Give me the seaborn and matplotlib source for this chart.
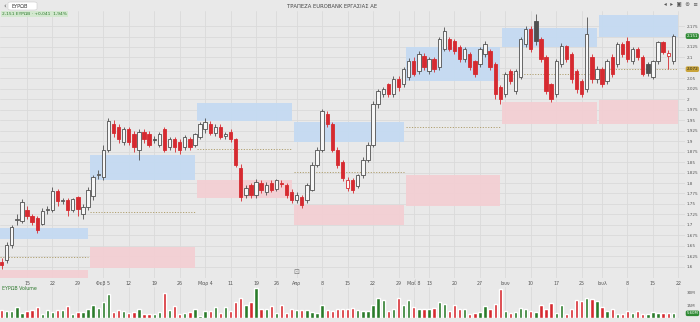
import numpy as np
import pandas as pd
import matplotlib
matplotlib.use("Agg")
import matplotlib.pyplot as plt
import seaborn as sns
from matplotlib.patches import Rectangle, FancyBboxPatch
from matplotlib.transforms import blended_transform_factory

sns.set_theme(style="white")
plt.rcParams['font.family'] = ['DejaVu Sans']

# ---------------- data ----------------
trade_start, trade_end = "2024-01-08", "2024-07-19"
holidays = ["2024-03-18", "2024-03-25", "2024-05-01", "2024-05-03",
            "2024-05-06", "2024-05-07", "2024-06-24"]

opens = [1.612, 1.617, 1.652, 1.712, 1.710, 1.735, 1.720, 1.717, 1.703, 1.735,
         1.736, 1.782, 1.756, 1.760, 1.736, 1.767, 1.725, 1.742, 1.768, 1.818,
         1.815, 1.880, 1.940, 1.933, 1.899, 1.928, 1.916, 1.880, 1.923, 1.916,
         1.905, 1.892, 1.928, 1.885, 1.904, 1.899, 1.885, 1.904, 1.892, 1.909,
         1.928, 1.940, 1.920, 1.935, 1.912, 1.923, 1.904, 1.837, 1.772, 1.796,
         1.772, 1.801, 1.779, 1.801, 1.786, 1.801, 1.796, 1.779, 1.760, 1.767,
         1.760, 1.784, 1.844, 1.880, 1.964, 1.940, 1.880, 1.849, 1.789, 1.808,
         1.794, 1.818, 1.856, 1.892, 1.988, 2.012, 2.036, 2.012, 2.048, 2.036,
         2.053, 2.091, 2.067, 2.103, 2.067, 2.096, 2.077, 2.120, 2.144, 2.139,
         2.125, 2.096, 2.108, 2.091, 2.084, 2.108, 2.115, 2.084, 2.029, 2.012,
         2.067, 2.019, 2.053, 2.132, 2.168, 2.187, 2.144, 2.101, 2.036, 2.012,
         2.084, 2.127, 2.108, 2.067, 2.043, 2.024, 2.101, 2.048, 2.072, 2.043,
         2.101, 2.084, 2.132, 2.139, 2.091, 2.120, 2.101, 2.085, 2.053, 2.091,
         2.137, 2.103, 2.091]
highs = [1.620, 1.660, 1.700, 1.725, 1.762, 1.745, 1.725, 1.720, 1.740, 1.745,
         1.790, 1.785, 1.765, 1.765, 1.765, 1.770, 1.750, 1.790, 1.820, 1.830,
         1.892, 1.955, 1.950, 1.940, 1.935, 1.935, 1.925, 1.930, 1.930, 1.925,
         1.912, 1.922, 1.935, 1.910, 1.910, 1.905, 1.915, 1.910, 1.920, 1.945,
         1.955, 1.947, 1.940, 1.942, 1.922, 1.930, 1.908, 1.845, 1.795, 1.800,
         1.810, 1.806, 1.803, 1.808, 1.810, 1.807, 1.800, 1.785, 1.778, 1.772,
         1.800, 1.850, 1.885, 1.978, 1.972, 1.945, 1.885, 1.855, 1.815, 1.812,
         1.822, 1.862, 1.898, 1.995, 2.025, 2.030, 2.040, 2.055, 2.055, 2.078,
         2.098, 2.100, 2.115, 2.110, 2.100, 2.100, 2.150, 2.172, 2.150, 2.145,
         2.130, 2.125, 2.112, 2.095, 2.125, 2.140, 2.120, 2.090, 2.035, 2.065,
         2.072, 2.072, 2.150, 2.175, 2.175, 2.204, 2.150, 2.105, 2.040, 2.096,
         2.135, 2.130, 2.112, 2.072, 2.048, 2.197, 2.108, 2.080, 2.078, 2.096,
         2.108, 2.137, 2.137, 2.150, 2.125, 2.125, 2.105, 2.090, 2.095, 2.140,
         2.140, 2.118, 2.157]
lows = [1.595, 1.610, 1.645, 1.700, 1.705, 1.715, 1.700, 1.680, 1.700, 1.725,
        1.730, 1.745, 1.750, 1.720, 1.730, 1.720, 1.715, 1.735, 1.760, 1.810,
        1.808, 1.875, 1.910, 1.895, 1.890, 1.890, 1.875, 1.855, 1.895, 1.885,
        1.895, 1.885, 1.875, 1.878, 1.875, 1.870, 1.878, 1.880, 1.885, 1.905,
        1.920, 1.915, 1.912, 1.905, 1.905, 1.898, 1.838, 1.757, 1.765, 1.765,
        1.765, 1.776, 1.772, 1.778, 1.780, 1.790, 1.765, 1.752, 1.752, 1.740,
        1.752, 1.780, 1.838, 1.875, 1.935, 1.875, 1.835, 1.805, 1.780, 1.776,
        1.788, 1.812, 1.850, 1.885, 1.980, 2.005, 2.005, 2.005, 2.020, 2.030,
        2.045, 2.055, 2.060, 2.070, 2.060, 2.065, 2.070, 2.115, 2.115, 2.108,
        2.090, 2.090, 2.070, 2.053, 2.078, 2.100, 2.070, 2.000, 1.988, 2.005,
        2.036, 2.012, 2.048, 2.125, 2.112, 2.130, 2.090, 2.012, 1.993, 2.005,
        2.078, 2.090, 2.040, 2.015, 2.005, 2.017, 2.040, 2.040, 2.030, 2.036,
        2.053, 2.078, 2.100, 2.090, 2.085, 2.095, 2.055, 2.055, 2.048, 2.085,
        2.108, 2.072, 2.085]
closes = [1.605, 1.652, 1.695, 1.715, 1.755, 1.722, 1.708, 1.688, 1.734, 1.738,
          1.782, 1.756, 1.757, 1.735, 1.762, 1.737, 1.742, 1.784, 1.815, 1.820,
          1.880, 1.947, 1.920, 1.904, 1.928, 1.897, 1.887, 1.921, 1.904, 1.892,
          1.903, 1.916, 1.880, 1.904, 1.885, 1.880, 1.909, 1.887, 1.916, 1.940,
          1.945, 1.920, 1.935, 1.909, 1.916, 1.904, 1.844, 1.767, 1.789, 1.772,
          1.803, 1.784, 1.796, 1.784, 1.806, 1.797, 1.772, 1.760, 1.772, 1.748,
          1.796, 1.844, 1.880, 1.971, 1.940, 1.880, 1.844, 1.813, 1.808, 1.784,
          1.818, 1.856, 1.892, 1.988, 2.019, 2.024, 2.012, 2.048, 2.029, 2.072,
          2.091, 2.060, 2.108, 2.077, 2.096, 2.072, 2.144, 2.163, 2.120, 2.115,
          2.096, 2.120, 2.077, 2.060, 2.120, 2.132, 2.077, 2.012, 2.000, 2.060,
          2.043, 2.067, 2.144, 2.168, 2.120, 2.139, 2.096, 2.019, 2.000, 2.091,
          2.127, 2.096, 2.048, 2.024, 2.012, 2.156, 2.048, 2.072, 2.036, 2.091,
          2.060, 2.132, 2.108, 2.096, 2.120, 2.100, 2.060, 2.062, 2.091, 2.137,
          2.113, 2.110, 2.151]
volumes = [9.2, 8.4, 8.4, 13.2, 6.4, 8.4, 9.2, 13.2, 4.4, 9.2,
           7.2, 9.2, 9.2, 14.4, 4.4, 7.2, 7.2, 10.4, 15.2, 12.4,
           19.2, 28.4, 7.2, 9.2, 8.4, 6.4, 7.2, 10.4, 5.2, 5.2,
           5.2, 7.2, 29.6, 9.6, 14.4, 5.2, 6.4, 7.2, 10.4, 3.0,
           8.4, 8.4, 13.2, 6.4, 13.2, 8.4, 19.2, 24.4, 15.2, 19.6,
           36.4, 11.2, 11.2, 14.4, 6.4, 15.2, 6.4, 10.4, 9.6, 9.2,
           9.2, 7.2, 6.4, 15.6, 9.2, 8.4, 10.4, 10.4, 10.4, 12.4,
           9.2, 8.4, 8.4, 15.6, 24.4, 21.2, 8.4, 10.4, 24.4, 15.6,
           21.6, 13.2, 10.4, 10.4, 10.4, 12.4, 19.2, 17.2, 8.4, 15.2,
           11.2, 11.2, 5.2, 6.4, 7.6, 14.4, 10.4, 16.4, 34.4, 8.4,
           5.6, 7.6, 12.4, 10.4, 8.4, 7.6, 15.2, 11.2, 17.6, 5.6,
           15.2, 4.4, 11.2, 21.6, 20.4, 24.4, 22.4, 20.4, 13.6, 8.4,
           11.2, 5.2, 5.2, 8.4, 6.4, 8.4, 5.2, 5.2, 7.6, 5.6,
           6.4, 6.4, 5.6]

# monthly zones (Jan..Jul)
blue_lo = [1.665, 1.808, 1.947, 1.897, 2.043, 2.125, 2.149]
blue_hi = [1.693, 1.868, 1.990, 1.945, 2.125, 2.170, 2.201]
red_lo = [1.560, 1.597, 1.765, 1.700, 1.746, 1.940, 1.942]
red_hi = [1.592, 1.647, 1.806, 1.748, 1.818, 1.993, 1.998]
mid_lvl = [1.624, 1.731, 1.882, 1.827, 1.935, 2.060, 2.072]

week_labels = ["15", "22", "29", "Φεβ 5", "12", "19", "26", "Μαρ 4", "11", "19", "26",
               "Απρ", "8", "15", "22", "29", "Μαΐ 8", "13", "20", "27",
               "Ιουν", "10", "17", "25", "Ιουλ", "8", "15", "22"]
price_ticks = [1.6, 1.625, 1.65, 1.675, 1.7, 1.725, 1.75, 1.775, 1.8, 1.825, 1.85,
               1.875, 1.9, 1.925, 1.95, 1.975, 2.0, 2.025, 2.05, 2.075, 2.1, 2.125,
               2.15, 2.175]
vol_ticks = [15, 30]
title = "ΤΡΑΠΕΖΑ EUROBANK ΕΡΓΑΣΙΑΣ ΑΕ"
symbol = "ΕΥΡΩΒ"

# ---------------- derived ----------------
dates = pd.bdate_range(trade_start, trade_end)
dates = dates[~dates.isin(pd.to_datetime(holidays))]
n = len(dates)
idx = np.arange(n)
O, H, L, C = map(np.array, (opens, highs, lows, closes))
prevC = np.concatenate([[O[0]], C[:-1]])
falling = C < prevC

wk = dates.isocalendar().week.values
week_pos = [i for i in range(1, n) if wk[i] != wk[i - 1]] + [n]
mon = dates.month.values
month_last = [i for i in range(n - 1) if mon[i] != mon[i + 1]]
zone_edges = [-0.35] + month_last + [n - 0.1]

BG = "#e9e9e9"
GRID = "#dadada"
RED = "#d62a30"
DARK = "#505050"
GREEN = "#2b7c2b"
LAB = 3.0

W, Hpx = 700, 322
fig = plt.figure(figsize=(7, 3.22), dpi=100, facecolor=BG)

def fx(px):
    return px / W

def fy(py):
    return 1 - py / Hpx

x0 = -0.31
x1 = 134.3
AX_R = 685
ax = fig.add_axes([0, fy(278), fx(AX_R), (278 - 11) / Hpx])
axv = fig.add_axes([0, fy(318), fx(AX_R), 31 / Hpx])
for a in (ax, axv):
    a.set_facecolor(BG)
    for s in a.spines.values():
        s.set_visible(False)

# grid
ax.set_xlim(x0, x1)
ax.set_ylim(1.573, 2.211)
for t in price_ticks:
    ax.axhline(t, color=GRID, lw=0.6, zorder=0)
for p in week_pos:
    ax.axvline(p, color=GRID, lw=0.6, zorder=0)
    axv.axvline(p, color=GRID, lw=0.6, zorder=0)

# zones
for k in range(len(blue_lo)):
    a0 = zone_edges[k] + (0.4 if k > 0 else 0)
    a1 = zone_edges[k + 1]
    ax.add_patch(Rectangle((a0, blue_lo[k]), a1 - a0, blue_hi[k] - blue_lo[k],
                           facecolor="#c4daf2", edgecolor="none", alpha=0.95, zorder=1))
    ax.add_patch(Rectangle((a0, red_lo[k]), a1 - a0, red_hi[k] - red_lo[k],
                           facecolor="#f3cfd3", edgecolor="none", alpha=0.95, zorder=1))
    ax.plot([a0, a1], [mid_lvl[k]] * 2, color="#b0a070", lw=0.7,
            linestyle=(0, (1.2, 1.6)), zorder=2)

# candles
up = C >= O
edge = np.where(falling, RED, DARK)
fill = np.where(up, "#f7f7f7", edge)
body_lo = np.minimum(O, C)
body_h = np.maximum(np.abs(C - O), 0.0025)
ax.vlines(idx, L, H, colors=edge, lw=0.6, zorder=3)
ax.bar(idx, body_h, bottom=body_lo, width=0.66, color=fill, edgecolor=edge,
       linewidth=0.6, zorder=4)

# axis ticks (labels under the price tags are covered in the original)
tag_levels = [C[-1], mid_lvl[-1]]
ytl = []
for t in price_ticks:
    if min(abs(t - v) for v in tag_levels) < 0.012:
        ytl.append("")
    else:
        ytl.append(("%.3f" % t).rstrip("0").rstrip("."))
ax.set_xticks(week_pos)
ax.set_xticklabels(week_labels)
ax.tick_params(axis="x", length=0, pad=2.2, labelsize=LAB + 0.4, labelcolor="#555555")
ax.yaxis.tick_right()
ax.set_yticks(price_ticks)
ax.set_yticklabels(ytl)
ax.tick_params(axis="y", length=0, pad=1.5, labelsize=LAB, labelcolor="#555555")

# price tags
tr = blended_transform_factory(fig.transFigure, ax.transData)
tag_kw = dict(transform=tr, fontsize=LAB, va="center", ha="left", zorder=10)
ax.text(fx(686.5), C[-1], "%.3f" % C[-1], color="white",
        bbox=dict(boxstyle="round,pad=0.2,rounding_size=0.4", fc="#2f8a34", ec="none"),
        **tag_kw)
ax.text(fx(686.5), mid_lvl[-1], "%.3f" % mid_lvl[-1], color="#222222",
        bbox=dict(boxstyle="round,pad=0.2,rounding_size=0.4", fc="#c9a43a", ec="none"),
        **tag_kw)
ax.text(58, 1.588, "⊡", fontsize=5, color="#777777", ha="center", va="center", zorder=5)

# volume with seaborn
vdf = pd.DataFrame({"i": idx, "vol": volumes,
                    "dir": np.where(falling, "down", "up")})
sns.barplot(data=vdf, x="i", y="vol", hue="dir", native_scale=True,
            palette={"up": GREEN, "down": RED}, saturation=1, width=0.66,
            errorbar=None, dodge=False, legend=False, ax=axv, zorder=3)
axv.set_xlim(x0, x1)
axv.set_ylim(0, 37.2)
axv.set_xlabel("")
axv.set_ylabel("")
axv.set_xticks([])
axv.yaxis.tick_right()
axv.set_yticks(vol_ticks)
axv.set_yticklabels(["%dM" % v for v in vol_ticks])
axv.tick_params(axis="y", length=0, pad=1.5, labelsize=LAB, labelcolor="#555555")
trv = blended_transform_factory(fig.transFigure, axv.transData)
axv.text(fx(686.5), volumes[-1], "%.2fM" % volumes[-1], transform=trv, fontsize=LAB - 0.2,
         color="white", va="center", ha="left", zorder=10,
         bbox=dict(boxstyle="round,pad=0.2,rounding_size=0.4", fc="#2f8a34", ec="none"))
fig.text(fx(2), fy(289), symbol + " Volume", fontsize=3.4, color="#2f7a2f",
         ha="left", va="center")

# header
fig.patches.append(FancyBboxPatch((fx(8), fy(10)), fx(29), 8 / Hpx,
                                  boxstyle="round,pad=0,rounding_size=0.004",
                                  transform=fig.transFigure, fc="white", ec="#cccccc", lw=0.4))
fig.text(fx(3), fy(6), "‹", fontsize=5, color="#555555", ha="left", va="center")
fig.text(fx(11), fy(6), symbol, fontsize=3.6, color="#333333", ha="left", va="center")
fig.text(fx(332), fy(6), title, fontsize=3.8, color="#444444", ha="center", va="center")
fig.text(fx(2), fy(14), "2,151 " + symbol + " · +0,041  1,94%", fontsize=3.2,
         color="#2f7a2f", ha="left", va="center",
         bbox=dict(boxstyle="square,pad=0.2", fc="#d3e8cf", ec="none"))
fig.text(fx(698), fy(5), "◂  ▸  ▣  ⊜  ≡", fontsize=4, color="#555555",
         ha="right", va="center")

fig.savefig("out.png", dpi=100, facecolor=BG)
